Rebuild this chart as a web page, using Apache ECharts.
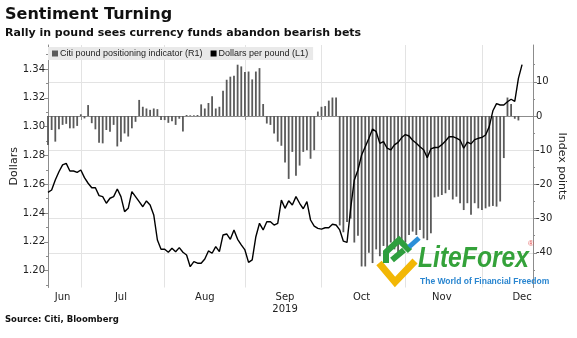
<!DOCTYPE html>
<html><head><meta charset="utf-8">
<script src="https://cdn.jsdelivr.net/npm/echarts@6/dist/echarts.min.js"></script>
<style>html,body{margin:0;padding:0;background:#fff}#c{width:577px;height:338px}</style>
</head><body><div id="c"></div>
<script>
const dates = ["06-18","06-19","06-20","06-21","06-24","06-25","06-26","06-27","06-28",
"07-01","07-02","07-03","07-04","07-05","07-08","07-09","07-10","07-11","07-12","07-15","07-16","07-17","07-18","07-19","07-22","07-23","07-24","07-25","07-26","07-29","07-30","07-31",
"08-01","08-02","08-05","08-06","08-07","08-08","08-09","08-12","08-13","08-14","08-15","08-16","08-19","08-20","08-21","08-22","08-23","08-26","08-27","08-28","08-29","08-30",
"09-02","09-03","09-04","09-05","09-06","09-09","09-10","09-11","09-12","09-13","09-16","09-17","09-18","09-19","09-20","09-23","09-24","09-25","09-26","09-27","09-30",
"10-01","10-02","10-03","10-04","10-07","10-08","10-09","10-10","10-11","10-14","10-15","10-16","10-17","10-18","10-21","10-22","10-23","10-24","10-25","10-28","10-29","10-30","10-31",
"11-01","11-04","11-05","11-06","11-07","11-08","11-11","11-12","11-13","11-14","11-15","11-18","11-19","11-20","11-21","11-22","11-25","11-26","11-27","11-28","11-29",
"12-02","12-03","12-04","12-05","12-06","12-09","12-10","12-11","12-12","12-13","12-16","12-17","12-18","12-19","12-20"];

const monthLabels = ["Jun","Jul","Aug","Sep\n2019","Oct","Nov","Dec"];
const monthLabelIdx = [4,20,43,65,86,108,130];
const monthStartIdx = [9,32,54,75,98,119];

const citiIndicator = [-8.5,-4.1,-7.5,-3.9,-2.6,-2.3,-3.6,-3.6,-2.9,0.5,
 -0.7,3.2,-2.1,-3.9,-7.8,-8.0,-4.1,-4.6,-2.6,-8.9,
 -7.5,-5.1,-6.0,-3.6,-1.7,4.7,2.7,2.2,1.8,2.2,
 2.0,-1.2,-1.2,-2.0,-1.5,-2.6,-0.8,-4.5,0.3,0.2,
 0.2,0.3,3.4,2.2,3.8,5.8,2.2,2.7,7.4,10.6,
 11.5,11.8,15.0,14.5,12.9,13.0,10.7,13.0,14.0,3.5,
 -2.2,-2.6,-5.1,-7.5,-8.7,-13.6,-18.4,-10.5,-17.5,-14.5,
 -10.5,-10,-12.5,-10,1.3,2.7,2.9,4.5,5.4,5.4,
 -32,-34,-31,-30,-37,-35,-44,-44,-40,-43,
 -39,-41,-38,-40,-37,-39,-41,-38,-37,-34.8,
 -33.8,-34.8,-33.3,-35.8,-36.3,-34.3,-23.8,-23.6,-23.1,-22.6,
 -21.6,-24.4,-23.6,-25.5,-27.5,-25.5,-28.9,-25.5,-27,-27.5,
 -27,-26.5,-26.3,-26.5,-25,-12.3,5.4,3.5,-0.8,-1.3];

const gbpUsd = [1.2544,1.2560,1.2630,1.2687,1.2734,1.2745,1.2692,1.2692,1.2683,1.2699,
 1.2646,1.2607,1.2576,1.2576,1.2521,1.2514,1.2468,1.2503,1.2514,1.2567,
 1.2514,1.2410,1.2433,1.2549,1.2514,1.2479,1.2444,1.2484,1.2456,1.2387,
 1.2213,1.2149,1.2149,1.2128,1.2156,1.2132,1.2160,1.2128,1.2109,1.2028,
 1.2063,1.2052,1.2052,1.2081,1.2137,1.2121,1.2167,1.2132,1.2248,1.2255,
 1.2218,1.2283,1.2218,1.2179,1.2144,1.2058,1.2075,1.2236,1.2329,1.2283,
 1.2340,1.2340,1.2317,1.2329,1.2490,1.2433,1.2485,1.2456,1.2514,1.2468,
 1.2430,1.2479,1.2352,1.2310,1.2294,1.2289,1.2298,1.2298,1.2322,1.2317,
 1.2283,1.2205,1.2197,1.2433,1.2630,1.2699,1.2803,1.2861,1.2919,1.2984,
 1.2965,1.2884,1.2896,1.2850,1.2838,1.2873,1.2891,1.2924,1.2945,1.2935,
 1.2905,1.2885,1.2860,1.2840,1.2785,1.2845,1.2855,1.2855,1.2875,1.2900,
 1.2930,1.2930,1.2920,1.2907,1.2850,1.2893,1.2880,1.2910,1.2919,1.2925,
 1.2942,1.3000,1.3110,1.3160,1.3150,1.3150,1.3173,1.3190,1.3175,1.3335,
 1.3430];

const leftTicks = [1.20,1.22,1.24,1.26,1.28,1.30,1.32,1.34];
const leftMinor = [1.19,1.21,1.23,1.25,1.27,1.29,1.31,1.33,1.35];
const rightTicks = [-40,-30,-20,-10,0,10];
const rightMinor = [-45,-35,-25,-15,-5,5,15];

const seriesNames = ["Citi pound positioning indicator (R1)", "Dollars per pound (L1)"];

const LMIN = 1.18834, LMAX = 1.35666, RMIN = -50.15, RMAX = 20.76;
const FONT = "DejaVu Sans";
const axisGrey = "#8c8c8c";

const chart = echarts.init(document.getElementById('c'), null, {renderer: 'canvas'});
const baseY = (pos, min, max) => ({
  type: 'value', position: pos, min: min, max: max, scale: true,
  axisLine: {show: false}, splitLine: {show: false}, axisLabel: {show: false},
  axisTick: {show: false}
});
chart.setOption({
  animation: false,
  backgroundColor: '#fff',
  title: [
    {text: 'Sentiment Turning', left: 5, top: 7, padding: 0, textStyle: {fontFamily: FONT, fontWeight: 'bold', fontSize: 16, color: '#111'}},
    {text: 'Rally in pound sees currency funds abandon bearish bets', left: 5, top: 28, padding: 0, textStyle: {fontFamily: FONT, fontWeight: 'bold', fontSize: 11, color: '#111'}},
    {text: 'Source: Citi, Bloomberg', left: 5, top: 315, padding: 0, textStyle: {fontFamily: FONT, fontWeight: 'bold', fontSize: 8.5, color: '#111'}}
  ],
  legend: {
    left: 48, top: 47, itemWidth: 6, itemHeight: 6, itemGap: 8, icon: 'rect',
    backgroundColor: '#e9e9e9', padding: [2, 5, 2, 4],
    textStyle: {fontFamily: 'Liberation Sans', fontSize: 9, color: '#222', padding: [0, 0, 0, -3]},
    data: seriesNames
  },
  grid: {left: 48, right: 44, top: 45, bottom: 50.5, containLabel: false, outerBoundsMode: 'none'},
  xAxis: {
    type: 'category', data: dates, boundaryGap: false,
    axisLine: {show: true, lineStyle: {color: axisGrey, width: 1}},
    axisTick: {show: true, length: 4, lineStyle: {color: axisGrey}, interval: (i) => monthStartIdx.includes(i)},
    axisLabel: {
      interval: (i) => monthLabelIdx.includes(i), margin: 4,
      fontFamily: FONT, fontSize: 10, color: '#222', lineHeight: 12,
      formatter: (v, i) => { const k = monthLabelIdx.indexOf(i); return k >= 0 ? monthLabels[k] : ''; }
    },
    splitLine: {show: true, interval: (i) => monthStartIdx.includes(i), lineStyle: {color: '#e3e3e3', width: 1}}
  },
  yAxis: [
    {
      type: 'value', position: 'left', min: LMIN, max: LMAX, scale: true,
      name: 'Dollars', nameLocation: 'middle', nameGap: 28, nameRotate: 90, nameMoveOverlap: false,
      nameTextStyle: {fontFamily: FONT, fontSize: 11, color: '#222'},
      axisLine: {show: true, lineStyle: {color: axisGrey}},
      axisTick: {show: true, length: 4, customValues: leftTicks, lineStyle: {color: axisGrey}},
      axisLabel: {customValues: leftTicks, fontFamily: FONT, fontSize: 10, color: '#222', margin: 3, formatter: v => v.toFixed(2)},
      splitLine: {show: false}
    },
    {
      type: 'value', position: 'right', min: RMIN, max: RMAX, scale: true,
      name: 'Index points', nameLocation: 'middle', nameGap: 23, nameRotate: -90, nameMoveOverlap: false,
      nameTextStyle: {fontFamily: FONT, fontSize: 11, color: '#222'},
      axisLine: {show: true, lineStyle: {color: axisGrey}},
      axisTick: {show: true, length: 4, customValues: rightTicks, lineStyle: {color: axisGrey}},
      axisLabel: {customValues: rightTicks, fontFamily: FONT, fontSize: 10, color: '#222', margin: 3},
      splitLine: {show: true, lineStyle: {color: '#e3e3e3', width: 1}}
    },
    Object.assign(baseY('left', LMIN, LMAX), {axisTick: {show: true, length: 2, customValues: leftMinor, lineStyle: {color: axisGrey}}}),
    Object.assign(baseY('right', RMIN, RMAX), {axisTick: {show: true, length: 2, customValues: rightMinor, lineStyle: {color: axisGrey}}})
  ],
  series: [
    {name: seriesNames[0], type: 'bar', yAxisIndex: 1, data: citiIndicator, barWidth: 1.8,
     itemStyle: {color: '#5a5a5a'}, z: 2},
    {name: seriesNames[1], type: 'line', yAxisIndex: 0, data: gbpUsd, symbol: 'none',
     lineStyle: {color: '#000', width: 1.4}, itemStyle: {color: '#000'}, z: 3}
  ],
  graphic: [
    {type: 'polyline', z: 100, shape: {points: [[379, 263], [395, 282], [415, 261]]},
     style: {stroke: '#f2b705', lineWidth: 7, fill: null, lineJoin: 'miter'}},
    {type: 'polyline', z: 101, shape: {points: [[386, 263], [386, 252], [399, 240], [410, 251]]},
     style: {stroke: '#2e9e3e', lineWidth: 6, fill: null}},
    {type: 'polyline', z: 101, shape: {points: [[392, 260], [404, 250]]},
     style: {stroke: '#2e9e3e', lineWidth: 6, fill: null}},
    {type: 'polyline', z: 102, shape: {points: [[409, 247], [419, 238]]},
     style: {stroke: '#2b8fd8', lineWidth: 5, fill: null}},
    {type: 'text', z: 100, left: 418, top: 244, scaleX: 0.85,
     style: {text: 'LiteForex', fontFamily: 'Liberation Sans', fontStyle: 'italic', fontWeight: 'bold', fontSize: 29, fill: '#34a23a'}},
    {type: 'text', z: 100, left: 528, top: 240,
     style: {text: '®', fontFamily: 'Liberation Sans', fontSize: 8, fill: '#e05050'}},
    {type: 'text', z: 100, left: 420, top: 277,
     style: {text: 'The World of Financial Freedom', fontFamily: 'Liberation Sans', fontWeight: 'bold', fontSize: 8.5, fill: '#2a86d0'}}
  ]
});
</script></body></html>
